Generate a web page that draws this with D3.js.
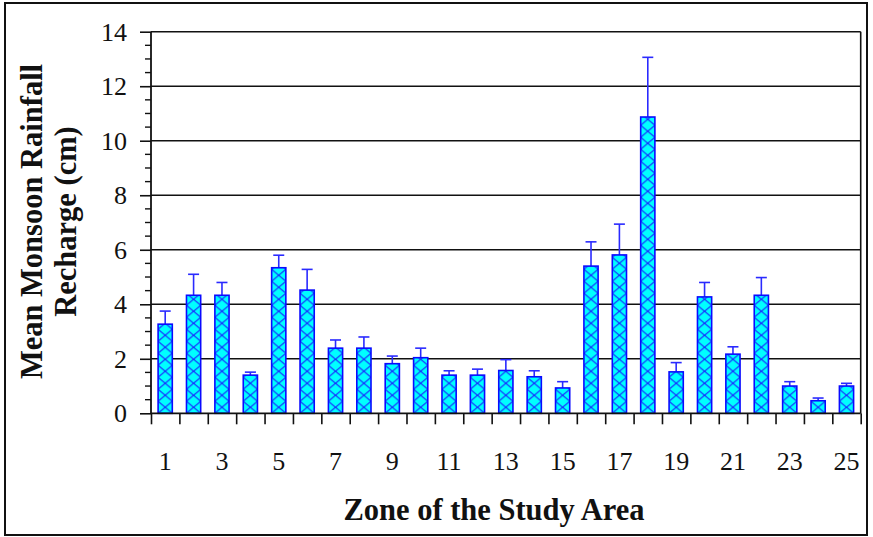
<!DOCTYPE html>
<html>
<head>
<meta charset="utf-8">
<script src="https://cdn.jsdelivr.net/npm/d3@7"></script>
<style>
  html, body { margin: 0; padding: 0; background: #fff; }
  svg { display: block; }
  text { font-family: "Times New Roman", "Liberation Serif", Times, serif; }
</style>
</head>
<body>
<svg id="chart" width="873" height="537"></svg>
<script>
// Zones of the study area
const zones = d3.range(1, 26);
// Mean monsoon rainfall recharge per zone (cm)
const meanRecharge = [3.27, 4.33, 4.33, 1.40, 5.34, 4.52, 2.39, 2.39, 1.82, 2.04,
                      1.40, 1.40, 1.57, 1.34, 0.93, 5.40, 5.81, 10.87, 1.52, 4.27,
                      2.17, 4.33, 1.00, 0.46, 1.00];
// Upper error (standard deviation) per zone (cm)
const errorPlus = [0.48, 0.77, 0.47, 0.11, 0.46, 0.76, 0.30, 0.41, 0.28, 0.35,
                   0.16, 0.22, 0.40, 0.22, 0.23, 0.89, 1.13, 2.19, 0.34, 0.53,
                   0.27, 0.65, 0.16, 0.10, 0.10];
const yTicks = [0, 2, 4, 6, 8, 10, 12, 14];
const xTickLabels = [1, 3, 5, 7, 9, 11, 13, 15, 17, 19, 21, 23, 25];

const svg = d3.select("#chart");
const plotL = 151, plotR = 860.7, plotT = 31.7, plotB = 413.3;

const x = d3.scaleBand().domain(zones).range([plotL, plotR])
  .paddingInner(0.5).paddingOuter(0.25);
const xEdge = d3.scaleLinear().domain([0.5, 25.5]).range([plotL, plotR]);
const y = d3.scaleLinear().domain([0, 14]).range([plotB, plotT]);

// outer frame
svg.append("rect").attr("x", 5).attr("y", 3).attr("width", 862).attr("height", 532)
  .attr("fill", "none").attr("stroke", "#111").attr("stroke-width", 2);

// horizontal gridlines (including the top edge of the plot)
svg.append("g").selectAll("line").data(yTicks.filter(d => d > 0)).join("line")
  .attr("x1", plotL).attr("x2", plotR)
  .attr("y1", d => y(d)).attr("y2", d => y(d))
  .attr("stroke", "#111").attr("stroke-width", 1.6);

// right edge of the plot area
svg.append("line").attr("x1", plotR).attr("x2", plotR)
  .attr("y1", plotT).attr("y2", plotB)
  .attr("stroke", "#111").attr("stroke-width", 1.6);

// hatch patterns, one per bar so each tile lines up with its bar
const defs = svg.append("defs");
const bw = x.bandwidth();
zones.forEach(z => {
  const p = defs.append("pattern")
    .attr("id", "hatch" + z)
    .attr("patternUnits", "userSpaceOnUse")
    .attr("x", x(z)).attr("y", plotB)
    .attr("width", bw).attr("height", 12);
  p.append("rect").attr("width", bw).attr("height", 12).attr("fill", "#00ffff");
  p.append("path")
    .attr("d", `M0,0L${bw},12M${bw},0L0,12`)
    .attr("stroke", "#1a1aff").attr("stroke-width", 1).attr("fill", "none");
});

// error bars
const eb = svg.append("g").attr("stroke", "#2a2aff").attr("stroke-width", 1.6);
zones.forEach((z, i) => {
  const cx = x(z) + bw / 2;
  const y0 = y(meanRecharge[i]);
  const y1 = y(meanRecharge[i] + errorPlus[i]);
  eb.append("line").attr("x1", cx).attr("x2", cx).attr("y1", y0).attr("y2", y1);
  eb.append("line").attr("x1", cx - 5.5).attr("x2", cx + 5.5).attr("y1", y1).attr("y2", y1);
});

// bars
svg.append("g").selectAll("rect").data(zones).join("rect")
  .attr("x", d => x(d)).attr("width", bw)
  .attr("y", (d, i) => y(meanRecharge[i]))
  .attr("height", (d, i) => plotB - y(meanRecharge[i]))
  .attr("fill", d => `url(#hatch${d})`)
  .attr("stroke", "#0a0aff").attr("stroke-width", 1.6);

// y axis with major and minor ticks
const yAxis = d3.axisLeft(y).tickValues(yTicks).tickSize(11).tickPadding(13)
  .tickFormat(d3.format("d"));
const gy = svg.append("g").attr("transform", `translate(${plotL},0)`).call(yAxis);
gy.attr("font-family", null);
gy.select(".domain").remove();
gy.selectAll(".tick line").attr("stroke", "#111").attr("stroke-width", 1.6);
gy.selectAll(".tick text").attr("font-size", 26).attr("fill", "#111");
const minor = d3.range(0, 14.01, 0.5).filter(v => v % 2 !== 0);
gy.selectAll(".minor").data(minor).join("line").attr("class", "minor")
  .attr("x1", -6).attr("x2", 0)
  .attr("y1", d => y(d)).attr("y2", d => y(d))
  .attr("stroke", "#111").attr("stroke-width", 1.4);
svg.append("line").attr("x1", plotL).attr("x2", plotL).attr("y1", plotT).attr("y2", plotB)
  .attr("stroke", "#111").attr("stroke-width", 1.8);

// x axis: ticks at zone boundaries, labels on odd zones
const xAxis = d3.axisBottom(xEdge).tickValues(d3.range(0.5, 25.6, 1))
  .tickSize(11).tickFormat("");
const gx = svg.append("g").attr("transform", `translate(0,${plotB})`).call(xAxis);
gx.select(".domain").remove();
gx.selectAll(".tick line").attr("stroke", "#111").attr("stroke-width", 1.6);
svg.append("line").attr("x1", plotL).attr("x2", plotR).attr("y1", plotB).attr("y2", plotB)
  .attr("stroke", "#111").attr("stroke-width", 1.8);

svg.append("g").selectAll("text").data(xTickLabels).join("text")
  .attr("x", d => x(d) + bw / 2).attr("y", 470)
  .attr("text-anchor", "middle")
  .attr("font-size", 26).attr("fill", "#111")
  .text(d => d);

// axis titles
svg.append("text").attr("x", 494).attr("y", 520).attr("text-anchor", "middle")
  .attr("font-size", 30.5).attr("font-weight", "bold")
  .attr("fill", "#111").text("Zone of the Study Area");

const yTitle = svg.append("g").attr("font-size", 30.5)
  .attr("font-weight", "bold").attr("fill", "#111").attr("text-anchor", "middle");
yTitle.append("text").attr("transform", "translate(41.5,221.5) rotate(-90)")
  .text("Mean Monsoon Rainfall");
yTitle.append("text").attr("transform", "translate(75.5,221.5) rotate(-90)")
  .text("Recharge (cm)");
</script>
</body>
</html>
